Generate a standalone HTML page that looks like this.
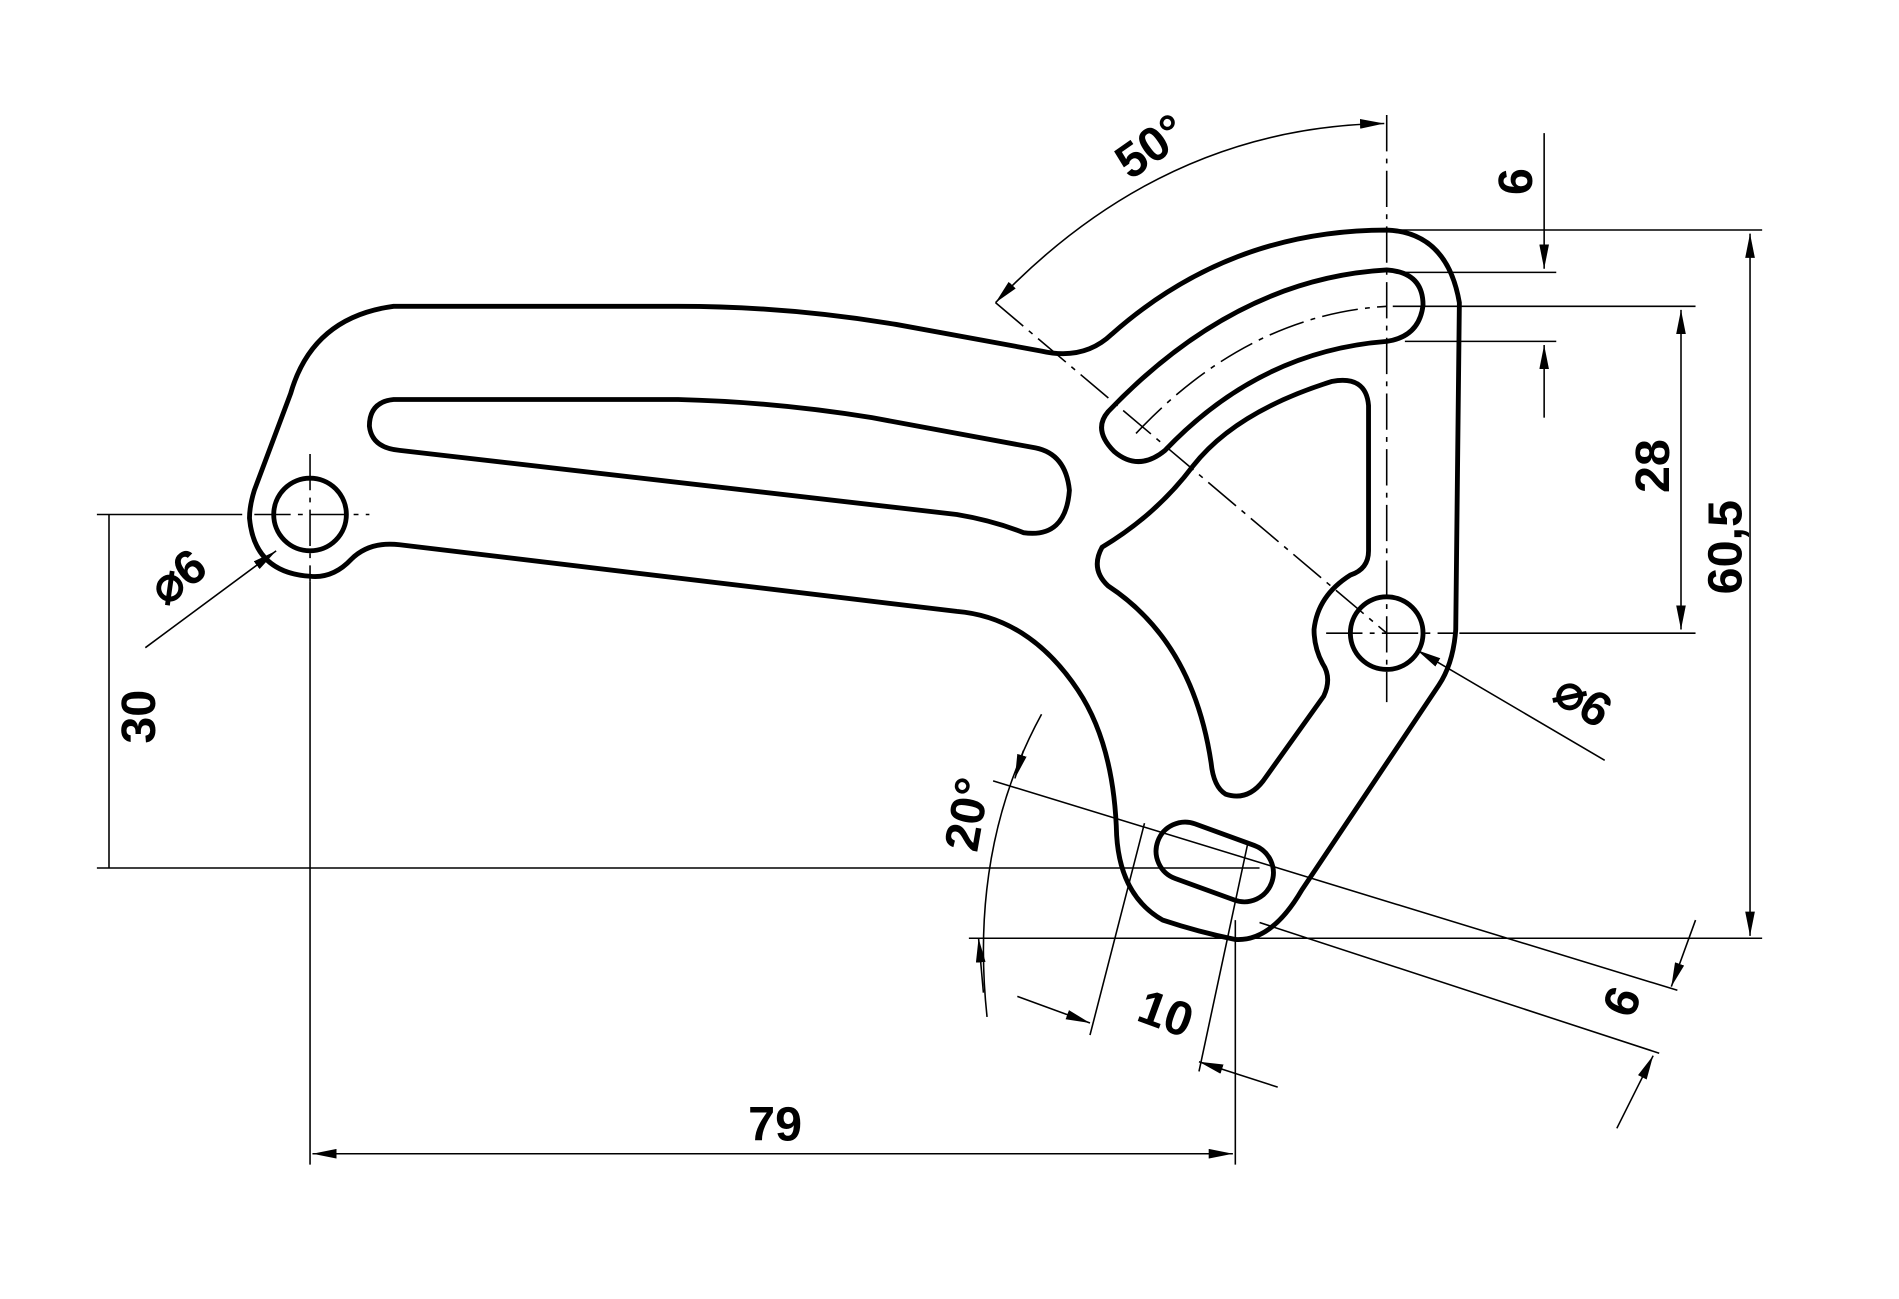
<!DOCTYPE html>
<html><head><meta charset="utf-8"><style>
html,body{margin:0;padding:0;background:#fff;}
svg{display:block;}
text{font-family:"Liberation Sans",sans-serif;font-weight:bold;fill:#000;}
</style></head><body>
<svg width="1899" height="1299" viewBox="0 0 1568 1073" preserveAspectRatio="none" xmlns="http://www.w3.org/2000/svg">
<defs>
<marker id="a" viewBox="0 0 20 8" refX="20" refY="4" markerWidth="20" markerHeight="8" orient="auto-start-reverse" markerUnits="userSpaceOnUse"><path d="M0,0 L20,4 L0,8 Z" fill="#000"/></marker>
</defs>
<g fill="none" stroke="#000" stroke-width="4" stroke-linejoin="round">
<path d="M240,325 Q258,262 325,253 L560,253 Q650,253 740,268 L860,290 Q895,298 918,276 Q1015,190 1145,190 Q1195,192 1205,250 L1202,520 Q1200,548 1188,566 L1075,735 Q1050,778 1020,776 Q990,770 960,760 Q925,740 922,690 Q920,615 890,570 Q850,510 790,505 L330,450 Q305,447 290,462 Q275,478 256,476 Q210,473 206,428 Q206,418 210,405 Z"/>
<path d="M330,372 L790,425 Q820,430 845,440 Q880,445 883,405 Q880,375 855,370 L720,345 Q640,332 560,330 L325,330 Q305,332 305,352 Q307,370 330,372 Z"/>
<path d="M915,340 Q1020,230 1145,223 Q1175,225 1175,252 Q1172,278 1145,282 Q1040,290 962,372 Q940,390 920,373 Q902,355 915,340 Z"/>
<path d="M1100,315 Q1128,310 1130,335 L1130,455 Q1130,470 1115,475 Q1088,492 1085,520 Q1085,535 1092,548 Q1100,560 1093,575 L1043,645 Q1030,662 1012,656 Q1002,650 1000,630 Q985,530 915,484 Q900,470 910,452 Q955,425 985,385 Q1020,340 1100,315 Z"/>
<rect x="953" y="688" width="100" height="48" rx="24" transform="rotate(20 1003 712)"/>
<circle cx="256" cy="425" r="30"/>
<circle cx="1145" cy="523" r="30"/>
</g>
<g fill="none" stroke="#000" stroke-width="1.3">
<path d="M256,375 V480 M210,425 H305 M1145,95 V580 M1095,523 H1200" stroke-dasharray="30,6,4,6"/>
<path d="M822,250 L1145,523" stroke-dasharray="30,6,4,6"/>
<path d="M938,358 Q1030,260 1145,253" stroke-dasharray="30,6,4,6"/>
<path d="M256,480 V962"/>
<path d="M1020,760 V962"/>
<path d="M80,717 H1040"/>
<path d="M80,425 H200"/>
<path d="M800,775 H1455"/>
<path d="M1150,190 H1455"/>
<path d="M1205,523 H1400"/>
<path d="M1150,253 H1400"/>
<path d="M1160,225 H1285 M1160,282 H1285"/>
<path d="M820,645 L1385,818 M1040,762 L1370,870"/>
<path d="M945,680 L900,855 M1030,698 L990,885"/>
<path d="M90,425 V717"/>
<path d="M258,953 H1018" marker-start="url(#a)" marker-end="url(#a)"/>
<path d="M1445,193 V773" marker-start="url(#a)" marker-end="url(#a)"/>
<path d="M1388,256 V520" marker-start="url(#a)" marker-end="url(#a)"/>
<path d="M1275,110 V222" marker-end="url(#a)"/>
<path d="M1275,345 V285" marker-end="url(#a)"/>
<path d="M822,250 Q960,105 1143,102" marker-start="url(#a)" marker-end="url(#a)"/>
<path d="M120,535 L228,455" marker-end="url(#a)"/>
<path d="M1325,628 L1170,537" marker-end="url(#a)"/>
<path d="M860,590 Q800,700 815,840" />
<path d="M845,620 L838,643" marker-end="url(#a)"/>
<path d="M812,820 L808,775" marker-end="url(#a)"/>
<path d="M840,823 L900,845" marker-end="url(#a)"/>
<path d="M1055,898 L990,877" marker-end="url(#a)"/>
<path d="M1400,760 L1380,815" marker-end="url(#a)"/>
<path d="M1335,932 L1365,872" marker-end="url(#a)"/>
</g>
<g font-size="40">
<text transform="translate(958,132) rotate(-35)" text-anchor="middle">50°</text>
<text transform="translate(1265,150) rotate(-90)" text-anchor="middle">6</text>
<text transform="translate(1378,385) rotate(-90)" text-anchor="middle">28</text>
<text transform="translate(1438,452) rotate(-90)" text-anchor="middle">60,5</text>
<text transform="translate(128,592) rotate(-90)" text-anchor="middle">30</text>
<text transform="translate(155,487) rotate(-37)" text-anchor="middle">⌀6</text>
<text transform="translate(1300,590) rotate(33)" text-anchor="middle">⌀6</text>
<text transform="translate(812,675) rotate(-80)" text-anchor="middle">20°</text>
<text transform="translate(958,850) rotate(20)" text-anchor="middle">10</text>
<text transform="translate(1352,832) rotate(-70)" text-anchor="middle">6</text>
<text x="640" y="942" text-anchor="middle">79</text>
</g>
</svg>
</body></html>
